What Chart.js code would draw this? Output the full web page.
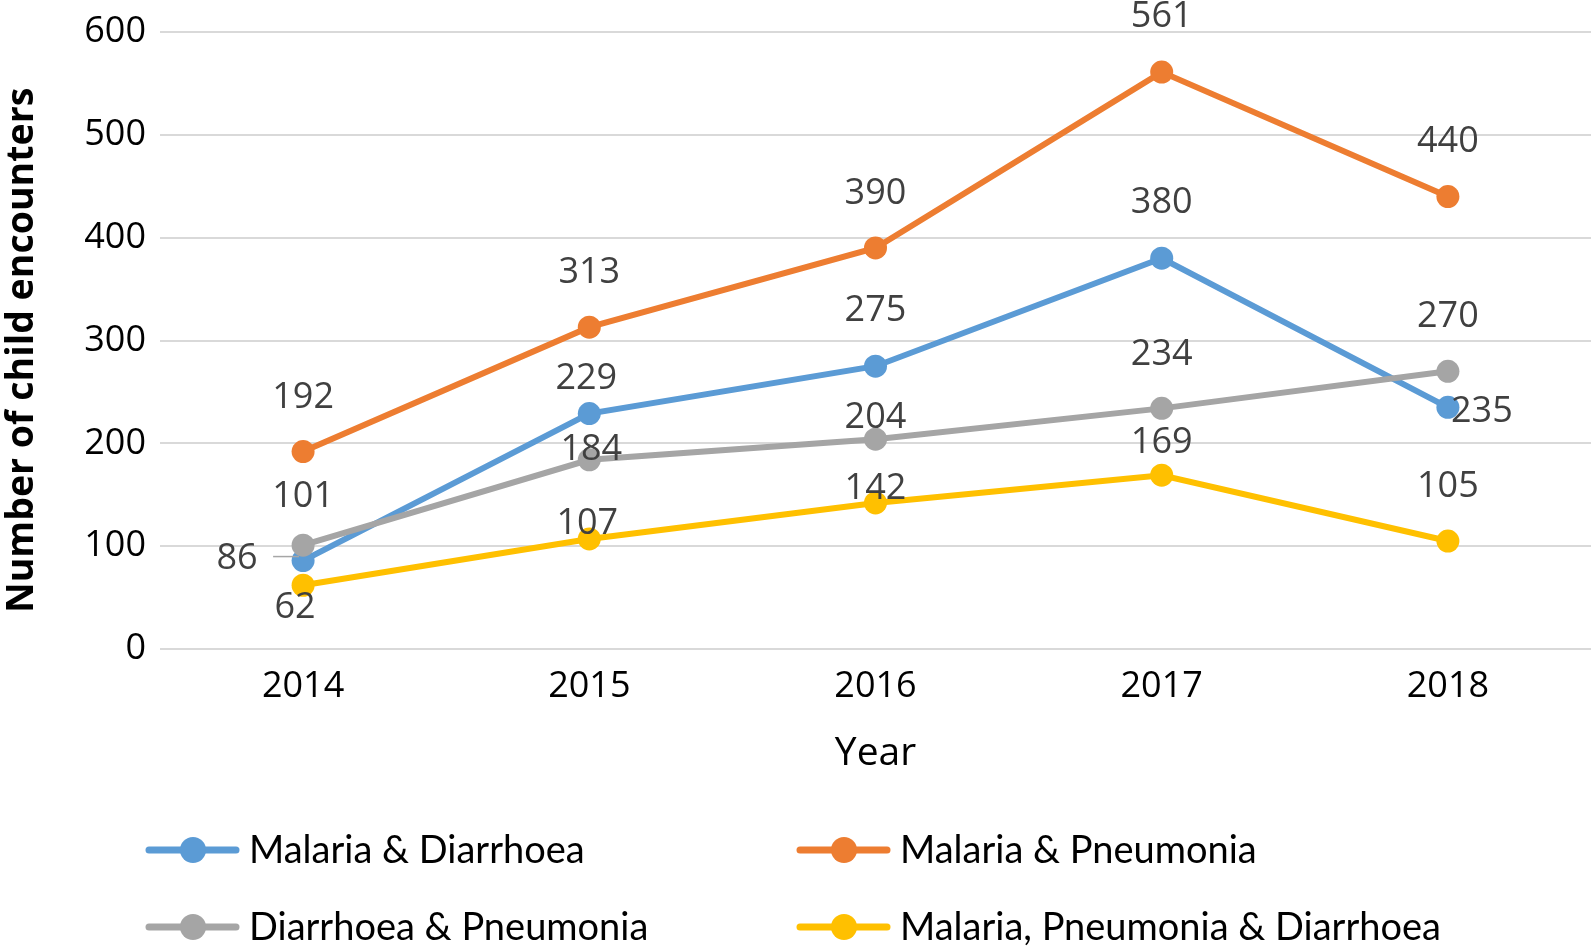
<!DOCTYPE html>
<html>
<head>
<meta charset="utf-8">
<script src="https://cdn.jsdelivr.net/npm/chart.js@4.4.1/dist/chart.umd.min.js"></script>
<style>
  html, body { margin: 0; padding: 0; background: #fff; }
  canvas { display: block; }
</style>
</head>
<body>
<canvas id="lineChart" width="1594" height="948"></canvas>
<script>
// data
const years = ['2014', '2015', '2016', '2017', '2018'];
const malariaDiarrhoea = [86, 229, 275, 380, 235];
const malariaPneumonia = [192, 313, 390, 561, 440];
const diarrhoeaPneumonia = [101, 184, 204, 234, 270];
const allThree = [62, 107, 142, 169, 105];
const yTicks = [0, 100, 200, 300, 400, 500, 600];

const seriesNames = ['Malaria & Diarrhoea', 'Malaria & Pneumonia', 'Diarrhoea & Pneumonia', 'Malaria, Pneumonia & Diarrhoea'];
const colors = ['#5B9BD5', '#ED7D31', '#A5A5A5', '#FFC000'];

// where each value label sits relative to its point [dx, dy, leader line]
const labelShift = [
    [[-66, -2, true], [-3, -35], [0, -55], [0, -55], [34, 4]],
    [[0, -54], [0, -54], [0, -54], [0, -55], [0, -55]],
    [[0, -48], [2, -10], [0, -21], [0, -54], [0, -55]],
    [[-8, 23], [-2, -15], [0, -14], [0, -32], [0, -54]]
];

const numFont = "'Open Sans', 'Noto Sans', sans-serif";

function makeSet(i, values) {
    return {
        label: seriesNames[i],
        data: values,
        borderColor: colors[i],
        backgroundColor: colors[i],
        pointBackgroundColor: colors[i],
        pointBorderWidth: 0,
        pointRadius: 11.5,
        borderWidth: 6,
        tension: 0,
        order: 4 - i   // later series on top, like the original
    };
}

// value labels
const valueLabels = {
    id: 'valueLabels',
    afterDatasetsDraw(chart) {
        const ctx = chart.ctx;
        ctx.save();
        ctx.font = '36px ' + numFont;
        ctx.fillStyle = '#404040';
        ctx.textAlign = 'center';
        ctx.textBaseline = 'middle';
        chart.data.datasets.forEach((ds, i) => {
            const meta = chart.getDatasetMeta(i);
            meta.data.forEach((pt, j) => {
                const s = labelShift[i][j];
                const lx = pt.x + s[0], ly = pt.y + s[1];
                if (s[2]) {
                    ctx.strokeStyle = '#A6A6A6';
                    ctx.lineWidth = 1.5;
                    ctx.beginPath();
                    ctx.moveTo(lx + 36, pt.y - 4);
                    ctx.lineTo(pt.x - 4, pt.y - 4);
                    ctx.stroke();
                }
                ctx.fillText(ds.data[j], lx, ly);
            });
        });
        ctx.restore();
    }
};

// two column legend under the plot
const gridLegend = {
    id: 'gridLegend',
    afterDraw(chart) {
        const ctx = chart.ctx;
        const colX = [144, 795];
        const rowY = [850, 927];
        ctx.save();
        ctx.font = "38px Lato, 'Open Sans', sans-serif";
        ctx.textBaseline = 'middle';
        ctx.textAlign = 'left';
        chart.data.datasets.forEach((ds, i) => {
            const x = colX[i % 2];
            const y = rowY[Math.floor(i / 2)];
            ctx.strokeStyle = ds.borderColor;
            ctx.lineWidth = 7;
            ctx.lineCap = 'round';
            ctx.beginPath();
            ctx.moveTo(x + 5, y);
            ctx.lineTo(x + 92, y);
            ctx.stroke();
            ctx.fillStyle = ds.borderColor;
            ctx.beginPath();
            ctx.arc(x + 49, y, 13, 0, Math.PI * 2);
            ctx.fill();
            ctx.fillStyle = '#000';
            ctx.fillText(ds.label, x + 105, y + 1);
        });
        ctx.restore();
    }
};

const ctx = document.getElementById('lineChart');
new Chart(ctx, {
    type: 'line',
    data: {
        labels: years,
        datasets: [
            makeSet(0, malariaDiarrhoea),
            makeSet(1, malariaPneumonia),
            makeSet(2, diarrhoeaPneumonia),
            makeSet(3, allThree)
        ]
    },
    options: {
        responsive: false,
        animation: false,
        layout: { autoPadding: false, padding: { top: 32, right: 3, left: 0, bottom: 0 } },
        plugins: {
            legend: { display: false },
            tooltip: { enabled: false }
        },
        scales: {
            x: {
                offset: true,
                grid: { display: false },
                border: { display: false },
                ticks: { color: '#000', font: { size: 36, family: numFont }, padding: 8 },
                title: {
                    display: true,
                    text: 'Year',
                    color: '#000',
                    font: { size: 39, family: numFont },
                    padding: { top: 0, bottom: 171 }
                },
                afterFit(scale) {
                    scale.height = 299;
                    scale.paddingLeft = 0;
                    scale.paddingRight = 0;
                }
            },
            y: {
                min: 0,
                max: 600,
                afterBuildTicks(scale) { scale.ticks = yTicks.map(v => ({ value: v })); },
                grid: { color: '#D9D9D9', lineWidth: 2, drawTicks: false },
                border: { display: false },
                ticks: { color: '#000', font: { size: 36, family: numFont }, padding: 14 },
                title: {
                    display: true,
                    // trailing spaces nudge the rotated title a little lower, as in the original
                    text: 'Number of child encounters  ',
                    color: '#000',
                    font: { size: 37.5, family: numFont, weight: 'bold' },
                    padding: { top: 0, bottom: 0 }
                },
                afterFit(scale) {
                    scale.width = 160;
                    scale.paddingTop = 0;
                    scale.paddingBottom = 0;
                }
            }
        }
    },
    plugins: [valueLabels, gridLegend]
});
</script>
</body>
</html>
